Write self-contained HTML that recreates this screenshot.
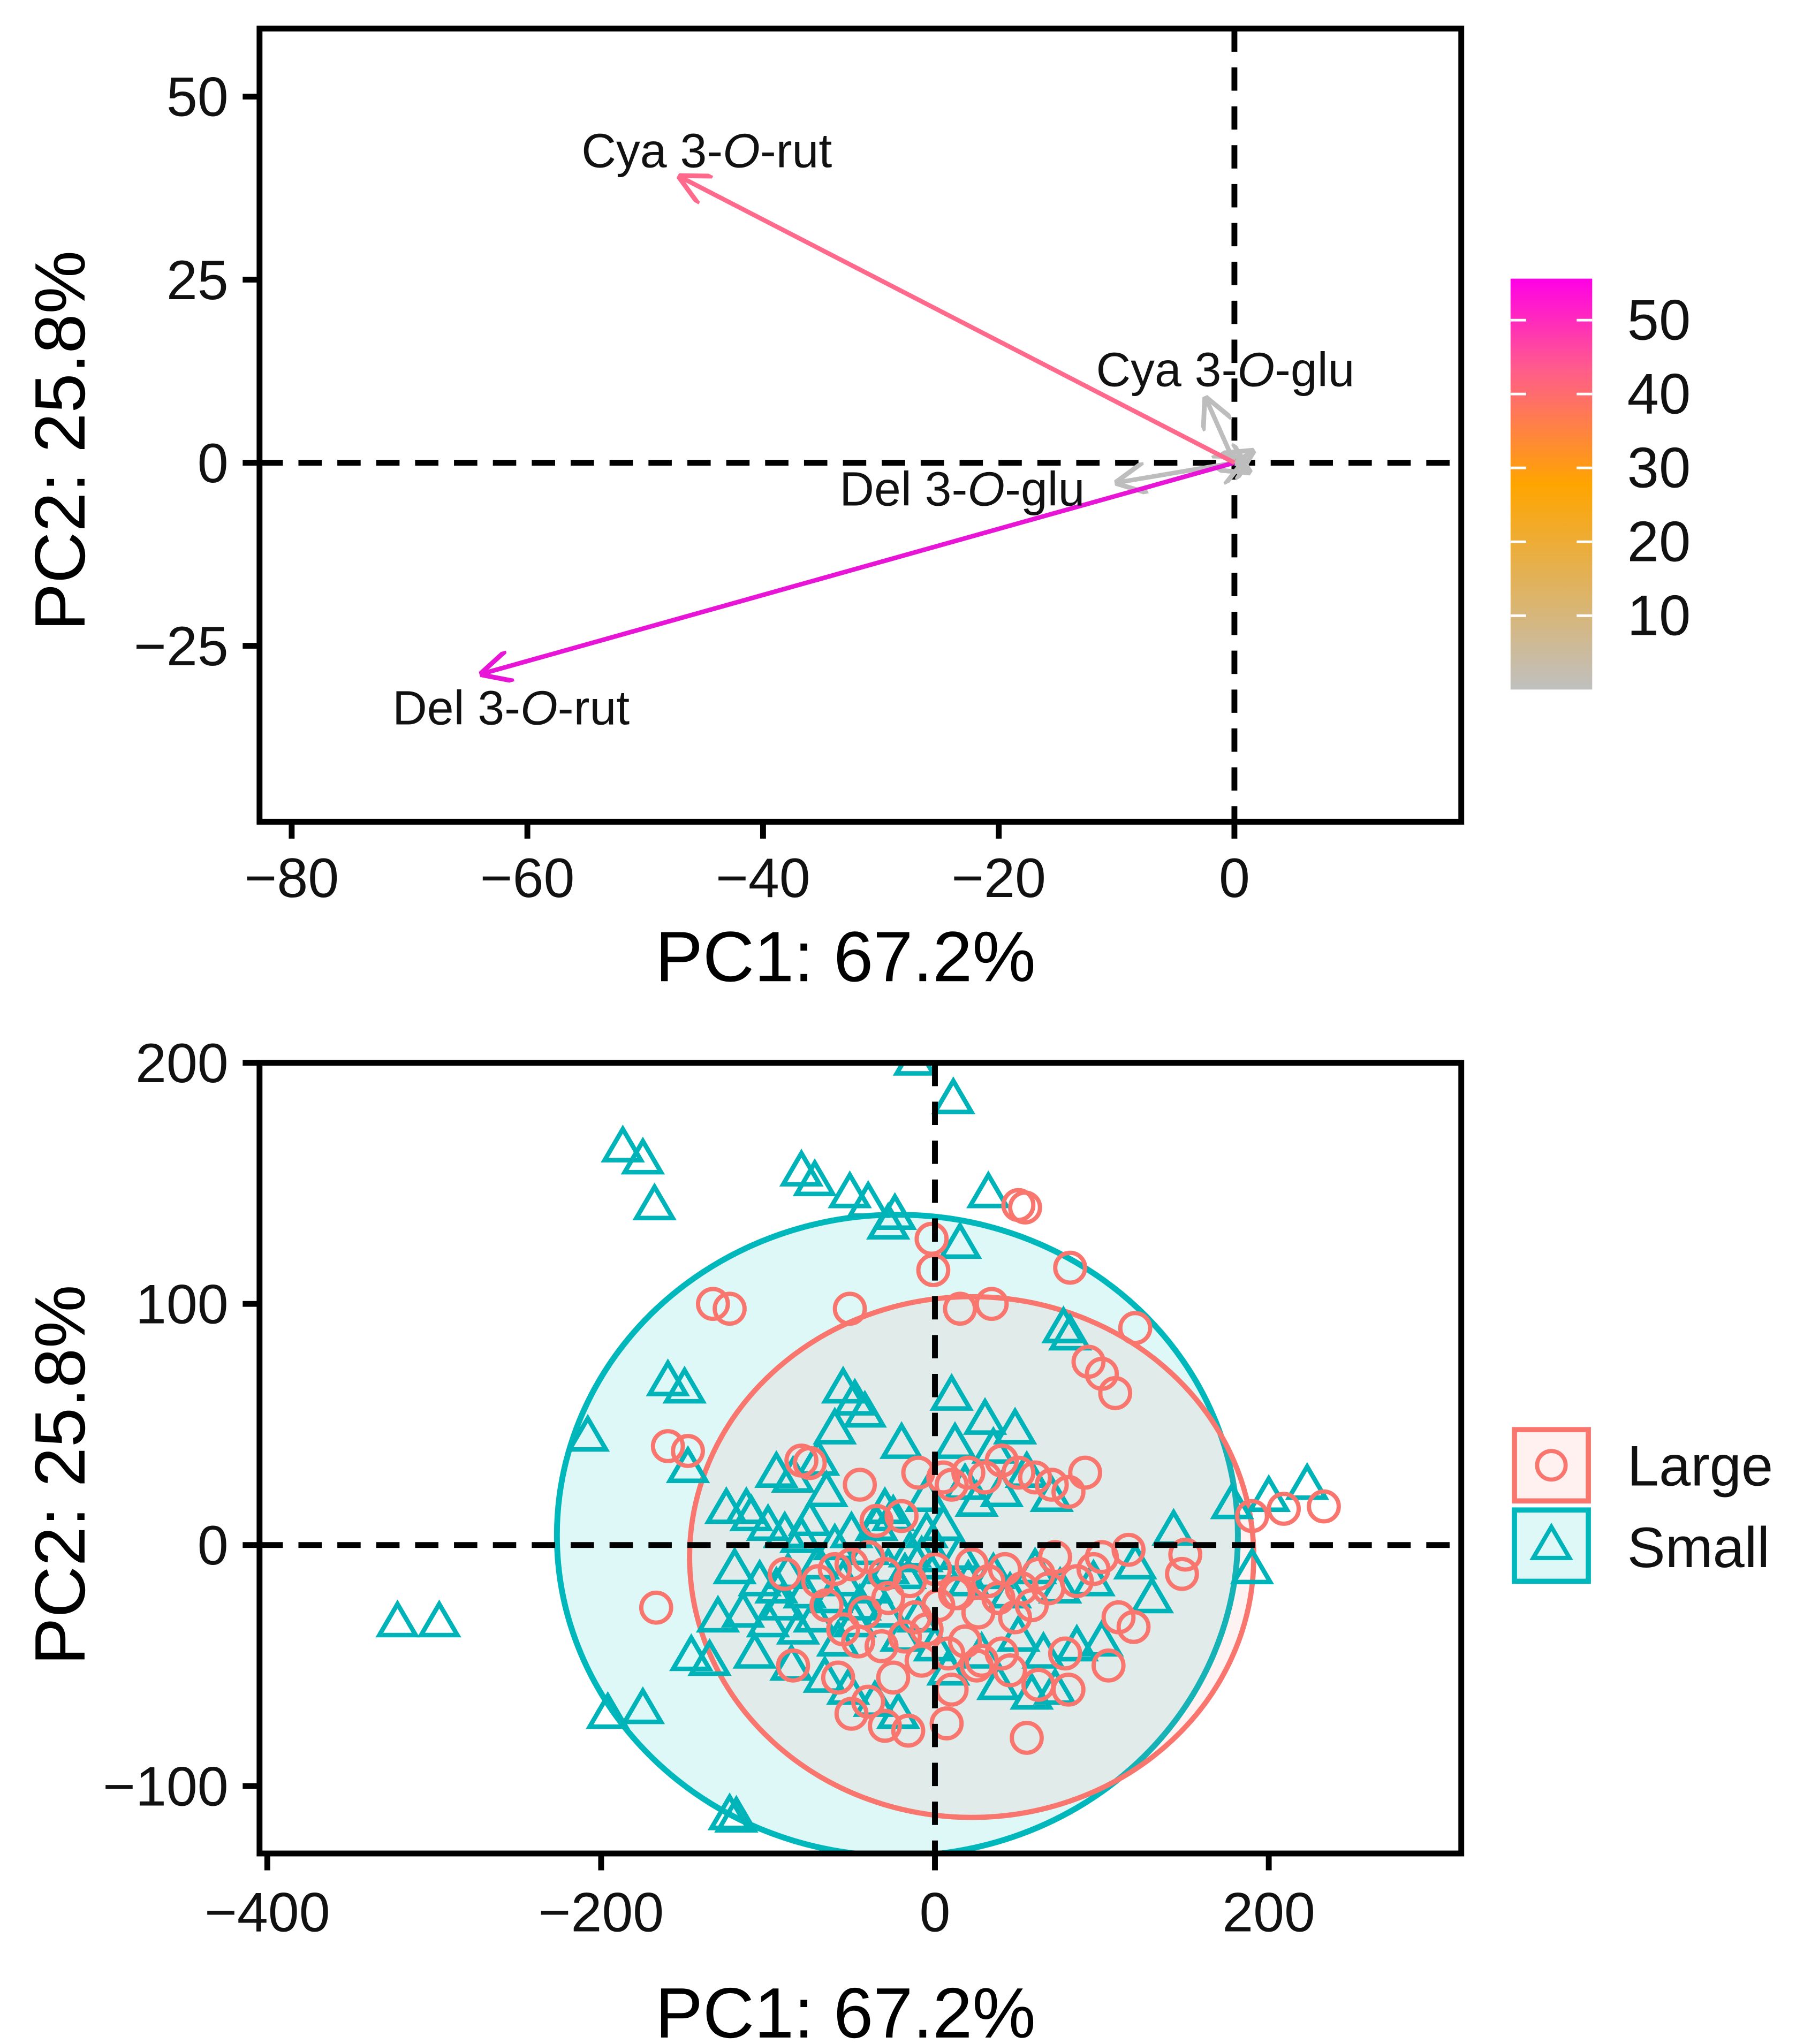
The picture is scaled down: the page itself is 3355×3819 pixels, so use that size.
<!DOCTYPE html>
<html><head><meta charset="utf-8"><style>
html,body{margin:0;padding:0;background:#fff;}
svg{display:block;font-family:"Liberation Sans",Arial,sans-serif;}
</style></head><body>
<svg id="chart" width="3355" height="3819" viewBox="0 0 1385 1577" xmlns="http://www.w3.org/2000/svg">
<defs>
<linearGradient id="cbar" x1="0" y1="0" x2="0" y2="1">
<stop offset="0" stop-color="#ff00e6"/>
<stop offset="0.22" stop-color="#ff5c8c"/>
<stop offset="0.5" stop-color="#ffa500"/>
<stop offset="1" stop-color="#c0c0c0"/>
</linearGradient>
<clipPath id="clipB"><rect x="200" y="820" width="927" height="610"/></clipPath>
<marker id="ah-rut" viewBox="0 0 10 10" refX="9" refY="5" markerWidth="7" markerHeight="7" orient="auto"><path d="M0,0 L10,5 L0,10" fill="none" stroke="#ff6a8c" stroke-width="1.5"/></marker>
<marker id="ah-del" viewBox="0 0 10 10" refX="9" refY="5" markerWidth="7" markerHeight="7" orient="auto"><path d="M0,0 L10,5 L0,10" fill="none" stroke="#e815d6" stroke-width="1.5"/></marker>
<marker id="ah-gray" viewBox="0 0 10 10" refX="9" refY="5" markerWidth="7" markerHeight="7" orient="auto"><path d="M0,0 L10,5 L0,10" fill="none" stroke="#bdbdbd" stroke-width="1.5"/></marker>
</defs>
<g id="topPanel"></g>
<g id="botPanel"></g>
</svg>
<script>
// ---- Top panel data ----
const loadNames = ["Cya 3-O-rut","Del 3-O-rut","Cya 3-O-glu","Del 3-O-glu","minor-a","minor-b","minor-c"];
const loadX = [-47, -63.8, -2.4, -9.9, 1.5, 1.2, 0.8];
const loadY = [39, -28.8, 8.7, -2.7, 1.5, -1.2, 0.6];
const loadContrib = [40, 55, 3, 3, 1, 1, 1];
const topXTicks = [-80,-60,-40,-20,0];
const topYTicks = [50,25,0,-25];
const cbTicks = [50,40,30,20,10];
// ---- Bottom panel data ----
const smallX = [-322,-297,-187,-175,-168,-208,-196,-175,-123,-119,-80,-72,-51,-40,-28,-24,-12,11,15,32,77,81,-160,-150,-148,-125,-113,-146,178,200,223,190,143,
 -55,-48,-42,-60,-20,10,12,30,35,48,-95,-85,-70,-65,-30,-5,18,25,40,55,70,-110,-100,-90,-80,-75,-60,-50,-40,-35,-25,-15,-5,5,15,-120,-105,-95,-88,-78,-70,-62,-55,-45,-38,-28,-18,-8,2,20,35,45,60,75,95,120,130,-130,-115,-100,-92,-82,-72,-58,-48,-30,-20,-10,0,28,50,65,85,100,-135,-108,-86,-66,-52,-36,-22,8,38,58,72,110];
const smallY = [-32,-32,165,160,141,45,-70,-68,-112,-113,155,151,146,142,133,137,201,185,125,146,90,87,68,65,32,15,15,-46,17,20,25,-10,6,
 65,60,55,48,42,62,42,52,40,48,30,28,35,22,15,20,25,18,22,30,20,12,8,5,3,10,0,5,-2,8,12,-3,5,8,-4,-10,-15,-18,-12,-20,-8,-22,-15,-25,-18,-10,-12,-5,-8,-15,-12,-20,-10,-18,-15,-8,-22,-30,-28,-32,-25,-35,-30,-40,-32,-28,-38,-30,-42,-45,-38,-45,-42,-40,-48,-45,-50,-55,-60,-65,-70,-52,-58,-62,-60];
const largeX = [-133,-123,-51,-2,-1,50,54,81,120,92,100,108,15,34,-160,-148,-167,209,233,190,-16,7,148,150,116,119,104,
 -80,-75,-45,-35,-20,-10,5,10,20,30,40,50,60,70,80,90,100,-90,-70,-60,-50,-40,-30,-15,0,12,22,32,42,52,62,72,85,95,110,-65,-55,-42,-28,-12,2,14,26,38,48,58,68,78,-85,-58,-46,-32,-18,-5,8,18,28,45,62,80,-40,-25,-8,10,25,40,55,-50,-30,-10];
const largeY = [100,98,98,127,114,141,140,115,90,76,71,63,98,100,41,39,-26,15,16,12,-77,-74,-12,-4,-2,-34,-50,
 35,34,25,10,12,30,28,25,30,28,35,30,28,25,22,30,-5,-12,-15,-10,-8,-5,-12,-15,-10,-20,-8,-15,-10,-18,-12,-5,-15,-10,-30,-25,-35,-28,-22,-30,-25,-20,-28,-22,-30,-25,-18,-45,-50,-55,-40,-42,-38,-35,-45,-40,-48,-52,-58,-60,-65,-55,-48,-60,-50,-45,-80,-70,-75];
const botXTicks = [-400,-200,0,200];
const botYTicks = [200,100,0,-100];
const ellSmall = {cx:-22.5, cy:4, rx:204, ry:133};
const ellLarge = {cx:22, cy:-5, rx:169, ry:108};

const NS = "http://www.w3.org/2000/svg";
function mk(tag, attrs, parent, text){
  const el = document.createElementNS(NS, tag);
  for (const k in attrs) el.setAttribute(k, attrs[k]);
  if (text !== undefined) el.textContent = text;
  parent.appendChild(el); return el;
}
const tx = v => 952 + v*9.09;
const ty = v => 357 - v*5.65;
const bx = v => 721 + v*1.2875;
const by = v => 1192 - v*1.86;
const TICKFS = 43, TITLEFS = 55, LW = 4.5;

// ===== TOP =====
const topG = document.getElementById('topPanel');
let e;
e = mk('rect',{x:200,y:22,width:927,height:612,fill:'#fff',stroke:'#000','stroke-width':LW},topG);
 
e = mk('line',{x1:200,x2:1127,y1:ty(0),y2:ty(0),stroke:'#000','stroke-width':LW,'stroke-dasharray':'18 12'},topG);
 
e = mk('line',{x1:tx(0),x2:tx(0),y1:22,y2:634,stroke:'#000','stroke-width':LW,'stroke-dasharray':'18 12'},topG);
 
function contribColor(c){ return c>=50?'#e815d6':(c>=30?'#ff6a8c':'#bdbdbd'); }
function contribMarker(c){ return c>=50?'url(#ah-del)':(c>=30?'url(#ah-rut)':'url(#ah-gray)'); }
for (let i=loadX.length-1;i>=0;i--){
  e = mk('line',{x1:tx(0),y1:ty(0),x2:tx(loadX[i]),y2:ty(loadY[i]),stroke:contribColor(loadContrib[i]),'stroke-width':3.5,'marker-end':contribMarker(loadContrib[i])},topG);
   
}
function varLabel(x,y,pre,post,name){
  const t = mk('text',{x:x,y:y,'font-size':37,fill:'#111','text-anchor':'middle'},topG);
   
  mk('tspan',{},t,pre); mk('tspan',{'font-style':'italic'},t,'O'); mk('tspan',{},t,post);
}
varLabel(545,129,'Cya 3-','-rut','label-cya-rut');
varLabel(394,559,'Del 3-','-rut','label-del-rut');
varLabel(945,298,'Cya 3-','-glu','label-cya-glu');
varLabel(742,390,'Del 3-','-glu','label-del-glu');
topXTicks.forEach(v=>{
  e = mk('line',{x1:tx(v),x2:tx(v),y1:634,y2:647,stroke:'#000','stroke-width':LW},topG);
   
  e = mk('text',{x:tx(v),y:692,'font-size':TICKFS,'text-anchor':'middle',fill:'#111'},topG,v<0?'\u2212'+(-v):String(v));
   
});
topYTicks.forEach(v=>{
  e = mk('line',{x1:187,x2:200,y1:ty(v),y2:ty(v),stroke:'#000','stroke-width':LW},topG);
   
  e = mk('text',{x:176,y:ty(v)+15,'font-size':TICKFS,'text-anchor':'end',fill:'#111'},topG,v<0?'\u2212'+(-v):String(v));
   
});
e = mk('text',{x:652,y:757,'font-size':TITLEFS,'text-anchor':'middle',fill:'#000'},topG,'PC1: 67.2%');
 
e = mk('text',{x:0,y:0,'font-size':TITLEFS,'text-anchor':'middle',fill:'#000',transform:'translate(65,340) rotate(-90)'},topG,'PC2: 25.8%');
 
e = mk('rect',{x:1165,y:215,width:63,height:317,fill:'url(#cbar)'},topG);
 
const cbY = v => 532 - v*5.7;
cbTicks.forEach(v=>{
  mk('line',{x1:1165,x2:1177,y1:cbY(v),y2:cbY(v),stroke:'#fff','stroke-width':2},topG);
  mk('line',{x1:1216,x2:1228,y1:cbY(v),y2:cbY(v),stroke:'#fff','stroke-width':2},topG);
  e = mk('text',{x:1255,y:cbY(v)+15,'font-size':44,fill:'#111'},topG,String(v));
   
});

// ===== BOTTOM =====
const botG = document.getElementById('botPanel');
const plot = mk('g',{'clip-path':'url(#clipB)'},botG);
e = mk('ellipse',{cx:bx(ellSmall.cx),cy:by(ellSmall.cy),rx:ellSmall.rx*1.2875,ry:ellSmall.ry*1.86,fill:'rgba(0,191,196,0.13)',stroke:'#00b8bc','stroke-width':4.5},plot);
 
e = mk('ellipse',{cx:bx(ellLarge.cx),cy:by(ellLarge.cy),rx:ellLarge.rx*1.2875,ry:ellLarge.ry*1.86,fill:'rgba(248,118,109,0.09)',stroke:'#f8766d','stroke-width':4},plot);
 
for (let i=0;i<smallX.length;i++){
  const x=bx(smallX[i]), y=by(smallY[i]);
  e = mk('polygon',{points:`${x},${y-14} ${x+14},${y+10} ${x-14},${y+10}`,fill:'none',stroke:'#00b3b8','stroke-width':3.5},plot);
   
}
for (let i=0;i<largeX.length;i++){
  e = mk('circle',{cx:bx(largeX[i]),cy:by(largeY[i]),r:11.5,fill:'none',stroke:'#f8766d','stroke-width':3.3},plot);
   
}
e = mk('line',{x1:200,x2:1127,y1:by(0),y2:by(0),stroke:'#000','stroke-width':LW,'stroke-dasharray':'18 12'},botG);
 
e = mk('line',{x1:bx(0),x2:bx(0),y1:820,y2:1430,stroke:'#000','stroke-width':LW,'stroke-dasharray':'18 12'},botG);
 
e = mk('rect',{x:200,y:820,width:927,height:610,fill:'none',stroke:'#000','stroke-width':LW},botG);
 
botXTicks.forEach(v=>{
  e = mk('line',{x1:bx(v),x2:bx(v),y1:1430,y2:1443,stroke:'#000','stroke-width':LW},botG);
   
  e = mk('text',{x:bx(v),y:1490,'font-size':TICKFS,'text-anchor':'middle',fill:'#111'},botG,v<0?'\u2212'+(-v):String(v));
   
});
botYTicks.forEach(v=>{
  e = mk('line',{x1:187,x2:200,y1:by(v),y2:by(v),stroke:'#000','stroke-width':LW},botG);
   
  e = mk('text',{x:176,y:by(v)+15,'font-size':TICKFS,'text-anchor':'end',fill:'#111'},botG,v<0?'\u2212'+(-v):String(v));
   
});
e = mk('text',{x:652,y:1572,'font-size':TITLEFS,'text-anchor':'middle',fill:'#000'},botG,'PC1: 67.2%');
 
e = mk('text',{x:0,y:0,'font-size':TITLEFS,'text-anchor':'middle',fill:'#000',transform:'translate(65,1138) rotate(-90)'},botG,'PC2: 25.8%');
 
e = mk('rect',{x:1168,y:1103,width:57,height:55,fill:'rgba(248,118,109,0.1)',stroke:'#f8766d','stroke-width':4},botG);
 
mk('circle',{cx:1196.5,cy:1130.5,r:11,fill:'none',stroke:'#f8766d','stroke-width':3.2},botG);
e = mk('rect',{x:1168,y:1165,width:57,height:55,fill:'rgba(0,191,196,0.13)',stroke:'#00b8bc','stroke-width':4},botG);
 
mk('polygon',{points:'1196.5,1178 1210.5,1202 1182.5,1202',fill:'none',stroke:'#00b3b8','stroke-width':3.3},botG);
e = mk('text',{x:1255,y:1146,'font-size':44,fill:'#111'},botG,'Large');
 
e = mk('text',{x:1255,y:1209,'font-size':44,fill:'#111'},botG,'Small');
 
</script>
</body></html>
